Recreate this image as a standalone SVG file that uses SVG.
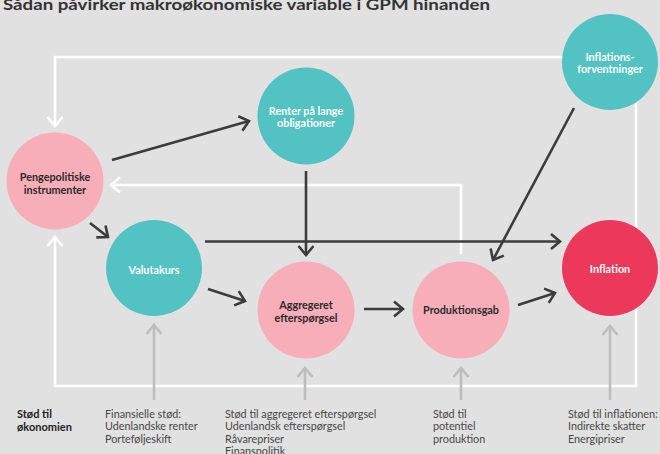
<svg xmlns="http://www.w3.org/2000/svg" width="660" height="454" viewBox="0 0 660 454">
<defs>
<style>
.lbl{font-family:Lato,"Open Sans","Liberation Sans",sans-serif;font-weight:700;font-size:10.8px;text-anchor:middle}
.dk{fill:#2a2a2a}
.wt{fill:#ffffff}
.note{font-family:Lato,"Open Sans","Liberation Sans",sans-serif;font-size:10.8px;fill:#474747}
.dline{fill:none;stroke:#3c3c3c;stroke-width:2.6;marker-end:url(#ad)}
.wline{fill:none;stroke:#ffffff;stroke-width:2.6}
.gline{fill:none;stroke:#bdbdbd;stroke-width:2.6;marker-end:url(#ag)}
</style>
<marker id="ad" markerUnits="userSpaceOnUse" viewBox="0 0 14 18" markerWidth="14" markerHeight="18" refX="12" refY="9" orient="auto"><path d="M3,1.5 L12,9 L3,16.5" fill="none" stroke="#3c3c3c" stroke-width="2.6"/></marker>
<marker id="aw" markerUnits="userSpaceOnUse" viewBox="0 0 14 18" markerWidth="14" markerHeight="18" refX="12" refY="9" orient="auto"><path d="M3,1.5 L12,9 L3,16.5" fill="none" stroke="#ffffff" stroke-width="2.6"/></marker>
<marker id="ag" markerUnits="userSpaceOnUse" viewBox="0 0 14 18" markerWidth="14" markerHeight="18" refX="12" refY="9" orient="auto"><path d="M3,1.5 L12,9 L3,16.5" fill="none" stroke="#bdbdbd" stroke-width="2.6"/></marker>
</defs>
<rect x="0" y="0" width="660" height="454" fill="#e1e1e1"/>
<text x="3" y="9.5" font-family="Lato,'Open Sans','Liberation Sans',sans-serif" font-weight="700" font-size="16" fill="#333333" textLength="487" lengthAdjust="spacingAndGlyphs">Sådan påvirker makroøkonomiske variable i GPM hinanden</text>
<g id="connectors">
<path class="wline" d="M636,57 L55,57 L55,126" marker-end="url(#aw)"/>
<path class="wline" d="M636,57 L636,386 L55,386 L55,237" marker-end="url(#aw)"/>
<path class="wline" d="M461,254 L461,185 L111,185" marker-end="url(#aw)"/>
<path class="dline" d="M112,160 L249,121"/>
<path class="dline" d="M90,223 L108,237"/>
<path class="dline" d="M306,171 L306,255"/>
<path class="dline" d="M205,241.5 L560,241.5"/>
<path class="dline" d="M208,289 L245,301"/>
<path class="dline" d="M364,309 L403,309"/>
<path class="dline" d="M518,305 L555,293"/>
<path class="dline" d="M574,108 L493,260"/>
<path class="gline" d="M154,400 L154,325"/>
<path class="gline" d="M305,400 L305,368"/>
<path class="gline" d="M461,400 L461,368"/>
<path class="gline" d="M610,400 L610,326"/>
</g>
<g id="pengepolitiske">
<circle cx="55" cy="181" r="48.5" fill="#f7aeb9"/>
<text class="lbl dk" x="55" y="180.5">Pengepolitiske</text>
<text class="lbl dk" x="55" y="194">instrumenter</text>
</g>
<g id="renter">
<circle cx="306" cy="116" r="48.5" fill="#52c2c2"/>
<text class="lbl wt" x="306" y="114.5">Renter på lange</text>
<text class="lbl wt" x="306" y="127">obligationer</text>
</g>
<g id="inflationsforventninger">
<circle cx="610" cy="62" r="48" fill="#52c2c2"/>
<text class="lbl wt" x="610" y="60.5" font-size="10">Inflations-</text>
<text class="lbl wt" x="610" y="73" font-size="10">forventninger</text>
</g>
<g id="valutakurs">
<circle cx="154" cy="268" r="48" fill="#52c2c2"/>
<text class="lbl wt" x="154" y="273.5">Valutakurs</text>
</g>
<g id="aggregeret">
<circle cx="306" cy="310" r="48.5" fill="#f7aeb9"/>
<text class="lbl dk" x="306" y="308.5">Aggregeret</text>
<text class="lbl dk" x="306" y="321.5">efterspørgsel</text>
</g>
<g id="produktionsgab">
<circle cx="461" cy="310" r="48.5" fill="#f7aeb9"/>
<text class="lbl dk" x="461" y="313.5">Produktionsgab</text>
</g>
<g id="inflation">
<circle cx="610" cy="268" r="48" fill="#ec385a"/>
<text class="lbl wt" x="610" y="272.5">Inflation</text>
</g>
<g id="notes">
<text font-family="Lato,'Open Sans','Liberation Sans',sans-serif" font-weight="700" font-size="11" fill="#1e1e1e"><tspan x="17" y="417.5">Stød til</tspan><tspan x="17" y="431">økonomien</tspan></text>
<text class="note"><tspan x="105" y="417.5">Finansielle stød:</tspan><tspan x="105" y="430">Udenlandske renter</tspan><tspan x="105" y="442.5">Porteføljeskift</tspan></text>
<text class="note"><tspan x="225" y="417.5">Stød til aggregeret efterspørgsel</tspan><tspan x="225" y="430">Udenlandsk efterspørgsel</tspan><tspan x="225" y="442.5">Råvarepriser</tspan><tspan x="225" y="455">Finanspolitik</tspan></text>
<text class="note"><tspan x="433" y="417.5">Stød til</tspan><tspan x="433" y="430">potentiel</tspan><tspan x="433" y="442.5">produktion</tspan></text>
<text class="note"><tspan x="568" y="417.5">Stød til inflationen:</tspan><tspan x="568" y="430">Indirekte skatter</tspan><tspan x="568" y="442.5">Energipriser</tspan></text>
</g>
</svg>
